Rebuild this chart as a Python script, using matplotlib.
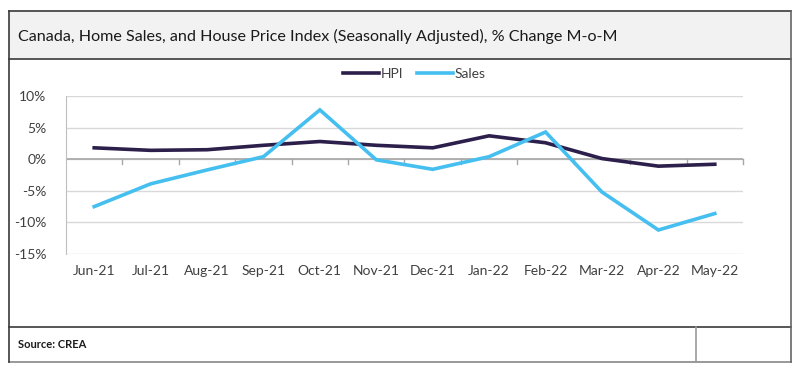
import matplotlib
matplotlib.use("Agg")
import matplotlib.pyplot as plt
from matplotlib.patches import Rectangle
from matplotlib.lines import Line2D
from matplotlib.ticker import FuncFormatter

months = ["Jun-21", "Jul-21", "Aug-21", "Sep-21", "Oct-21", "Nov-21",
          "Dec-21", "Jan-22", "Feb-22", "Mar-22", "Apr-22", "May-22"]
hpi = [1.8, 1.4, 1.5, 2.2, 2.8, 2.2, 1.8, 3.7, 2.6, 0.1, -1.1, -0.8]
sales = [-7.5, -3.9, -1.7, 0.4, 7.8, -0.1, -1.6, 0.4, 4.3, -5.2, -11.2, -8.6]
yticks = [10, 5, 0, -5, -10, -15]

title = "Canada, Home Sales, and House Price Index (Seasonally Adjusted), % Change M-o-M"
source = "Source: CREA"

W, H = 800, 376
fig = plt.figure(figsize=(W / 100, H / 100), dpi=100)
plt.rcParams['font.family'] = ['Lato', 'DejaVu Sans']

def fx(x):
    return x / W

def fy(y):
    return 1 - y / H

# title bar background
fig.patches.append(Rectangle((fx(9), fy(59)), fx(791) - fx(9), fy(11) - fy(59),
                             transform=fig.transFigure, facecolor="#F2F2F2",
                             edgecolor="none", zorder=0))
# borders
lc = "#3a3a3a"
def hline(y, x0, x1, c=lc, lw=1.2):
    fig.add_artist(Line2D([fx(x0), fx(x1)], [fy(y), fy(y)], color=c, lw=lw,
                          transform=fig.transFigure))
def vline(x, y0, y1, c=lc, lw=1.2):
    fig.add_artist(Line2D([fx(x), fx(x)], [fy(y0), fy(y1)], color=c, lw=lw,
                          transform=fig.transFigure))

hline(11, 9, 791)
hline(59, 9, 791)
hline(327, 9, 791)
hline(362, 9, 791, c="#888888")
vline(9, 11, 362)
vline(791, 11, 362, c="#666666")
vline(696, 327, 362, c="#999999")

fig.text(fx(18), fy(36), title, fontsize=11.6, color="#1a1a1a",
         va="center", ha="left")
fig.text(fx(18), fy(345), source, fontsize=8, fontweight="bold",
         color="#1a1a1a", va="center", ha="left")

ax = fig.add_axes([fx(66), fy(254), fx(743) - fx(66), fy(96) - fy(254)])
x = list(range(len(months)))
hpi_color = "#2C1F4B"
sales_color = "#45BFEF"
ax.plot(x, hpi, color=hpi_color, lw=2.6, label="HPI", zorder=3,
        solid_joinstyle="miter")
ax.plot(x, sales, color=sales_color, lw=2.6, label="Sales", zorder=4,
        solid_joinstyle="miter")

ax.set_xlim(-0.5, len(months) - 0.5)
ax.set_ylim(-15, 10)
ax.set_yticks(yticks)
ax.yaxis.set_major_formatter(FuncFormatter(lambda v, p: f"{int(v)}%"))
ax.grid(axis="y", color="#D9D9D9", lw=1)
ax.set_axisbelow(True)

for s in ["top", "right", "bottom"]:
    ax.spines[s].set_visible(False)
ax.spines["left"].set_color("#BFBFBF")
ax.tick_params(axis="y", length=0, labelsize=10, colors="#404040", pad=14)

# horizontal axis at zero
ax.axhline(0, color="#A6A6A6", lw=1.2, zorder=2)
ax.set_xticks(x)
ax.set_xticklabels(months)
ax.tick_params(axis="x", length=0, labelsize=10, colors="#404040", pad=8)
for b in range(1, len(months) + 1):
    ax.plot([b - 0.5, b - 0.5], [0, -0.8], color="#A6A6A6", lw=1, zorder=2,
            clip_on=False)

leg = fig.legend(handles=[Line2D([], [], color=hpi_color, lw=2.6),
                          Line2D([], [], color=sales_color, lw=2.6)],
                 labels=["HPI", "Sales"], loc="center",
                 bbox_to_anchor=(fx(414), fy(74)), ncol=2, frameon=False,
                 fontsize=10, handlelength=2.6, handletextpad=0.1,
                 columnspacing=1.0, labelcolor="#404040")

fig.savefig("out.png", dpi=100)
